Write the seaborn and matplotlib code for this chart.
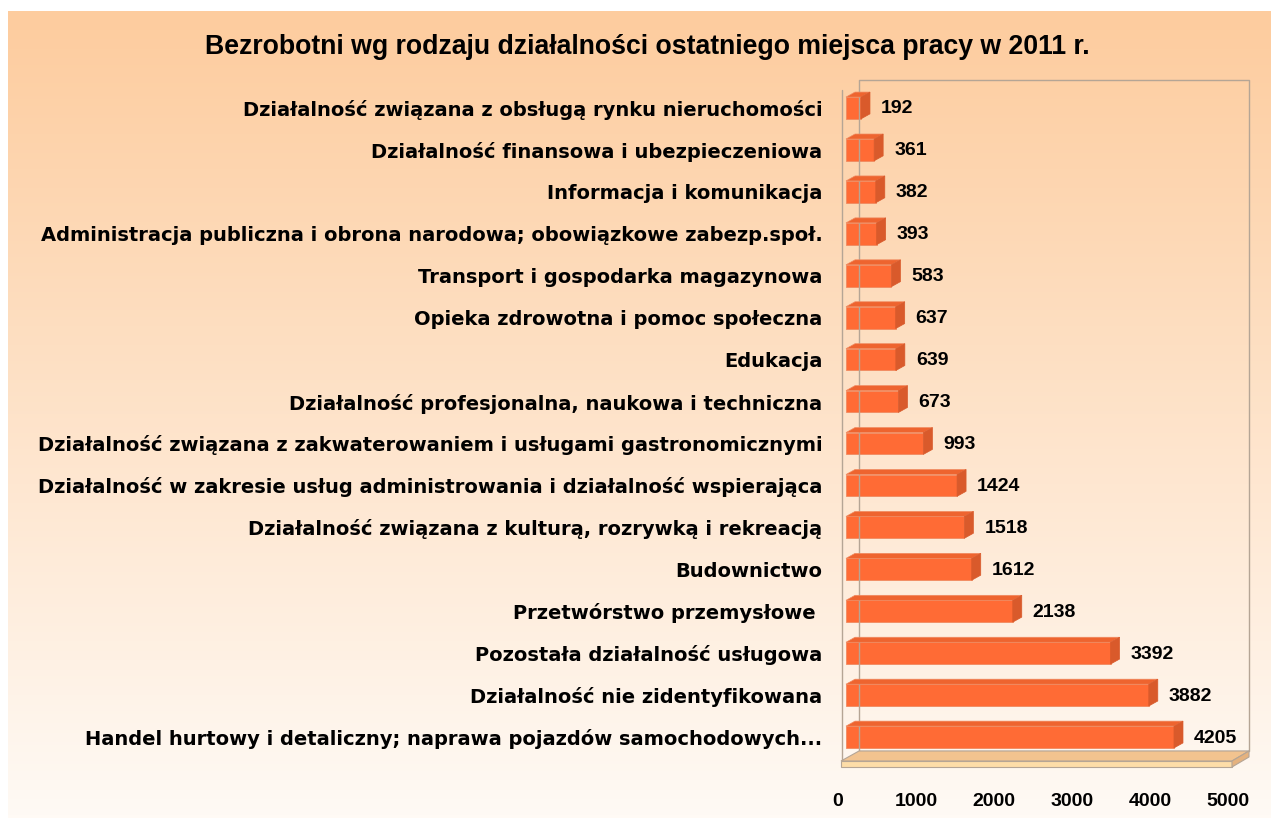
import numpy as np
import pandas as pd
import matplotlib
matplotlib.use("Agg")
import matplotlib.pyplot as plt
import seaborn as sns
from matplotlib.patches import Polygon
from matplotlib.transforms import IdentityTransform, ScaledTranslation

# data (top to bottom)
categories = [
    "Działalność związana z obsługą rynku nieruchomości",
    "Działalność finansowa i ubezpieczeniowa",
    "Informacja i komunikacja",
    "Administracja publiczna i obrona narodowa; obowiązkowe zabezp.społ.",
    "Transport i gospodarka magazynowa",
    "Opieka zdrowotna i pomoc społeczna",
    "Edukacja",
    "Działalność profesjonalna, naukowa i techniczna",
    "Działalność związana z zakwaterowaniem i usługami gastronomicznymi",
    "Działalność w zakresie usług administrowania i działalność wspierająca",
    "Działalność związana z kulturą, rozrywką i rekreacją",
    "Budownictwo",
    "Przetwórstwo przemysłowe ",
    "Pozostała działalność usługowa",
    "Działalność nie zidentyfikowana",
    "Handel hurtowy i detaliczny; naprawa pojazdów samochodowych...",
]
values = [192, 361, 382, 393, 583, 637, 639, 673, 993, 1424, 1518, 1612, 2138, 3392, 3882, 4205]
x_ticks = [0, 1000, 2000, 3000, 4000, 5000]
title = "Bezrobotni wg rodzaju działalności ostatniego miejsca pracy w 2011 r."

df = pd.DataFrame({"category": categories, "value": values})

sns.set_style("white")
plt.rcParams["font.family"] = ["Liberation Sans", "DejaVu Sans"]
plt.rcParams["text.color"] = "black"
plt.rcParams["xtick.color"] = "black"
plt.rcParams["ytick.color"] = "black"

W, H = 1271, 818
fig = plt.figure(figsize=(W / 100, H / 100), dpi=100)
fig.patch.set_facecolor("white")

# gradient background (peach -> almost white)
bg = fig.add_axes([8 / W, 0, 1 - 8 / W, (H - 11) / H])
top_c = np.array([253, 204, 158]) / 255
bot_c = np.array([255, 250, 245]) / 255
t = np.linspace(0, 1, 256)[:, None]
grad = top_c[None, :] * (1 - t) + bot_c[None, :] * t
bg.imshow(grad[:, None, :], aspect="auto", extent=[0, 1, 0, 1])
bg.set_axis_off()

# main axes = front plane of the bars
ax_l, ax_r, ax_t, ax_b = 846, 1236, 87, 758
ax = fig.add_axes([ax_l / W, 1 - ax_b / H, (ax_r - ax_l) / W, (ax_b - ax_t) / H])
ax.set_facecolor("none")

front = "#FF6B35"
sns.barplot(data=df, x="value", y="category", orient="h", color=front,
            width=0.52, saturation=1, ax=ax, edgecolor="#F08A60", linewidth=0.6, zorder=3)
ax.set_xlim(0, 5000)
ax.set_ylim(len(categories) - 0.5, -0.5)
for s in ax.spines.values():
    s.set_visible(False)
ax.set_xlabel("")
ax.set_ylabel("")

num_font = dict(fontsize=14, fontweight="bold", color="black")
ax.set_xticks(x_ticks)
ax.set_xticklabels([str(v) for v in x_ticks], **num_font)
ax.tick_params(axis="x", length=0, pad=25)
ax.tick_params(axis="y", length=0, pad=17)
for lbl in ax.get_yticklabels():
    lbl.set_fontfamily(["DejaVu Sans"])
    lbl.set_fontsize(14)
    lbl.set_fontweight("bold")
shift = ScaledTranslation(-8 / 100, 0, fig.dpi_scale_trans)
for lbl in ax.get_xticklabels():
    lbl.set_transform(lbl.get_transform() + shift)

fig.canvas.draw()
bb = ax.get_window_extent()
x0, y0, x1, y1 = bb.x0, bb.y0, bb.x1, bb.y1
ident = IdentityTransform()
edge = "#B5A595"

# back wall / side lines / floor of the 3-D box
fig.add_artist(plt.Line2D([x0 + 13, x1 + 13, x1 + 13, x0 + 13, x0 + 13],
                          [y0 + 7, y0 + 7, y1 + 7, y1 + 7, y0 + 7],
                          transform=ident, color=edge, lw=1.0, zorder=1))
fig.add_artist(plt.Line2D([x0 - 4, x0 - 4], [y0 - 3, y1 - 3],
                          transform=ident, color=edge, lw=1.0, zorder=1))
floor_top = [(x0 - 5, y0 - 3), (x1 - 4, y0 - 3), (x1 + 13, y0 + 7), (x0 + 13, y0 + 7)]
floor_front = [(x0 - 5, y0 - 3), (x1 - 4, y0 - 3), (x1 - 4, y0 - 9), (x0 - 5, y0 - 9)]
floor_side = [(x1 - 4, y0 - 3), (x1 + 13, y0 + 7), (x1 + 13, y0 + 1), (x1 - 4, y0 - 9)]
for pts, c in [(floor_top, "#F2C38F"), (floor_front, "#FDDDA8"), (floor_side, "#E5B27E")]:
    fig.add_artist(Polygon(pts, closed=True, transform=ident, facecolor=c,
                           edgecolor=edge, lw=0.8, zorder=2))

# 3-D faces for each bar, derived from the seaborn patches
dx, dy = 9, 5
for p in ax.patches:
    bx0, by0 = ax.transData.transform((p.get_x(), p.get_y()))
    bx1, by1 = ax.transData.transform((p.get_x() + p.get_width(), p.get_y() + p.get_height()))
    ytop, ybot = max(by0, by1), min(by0, by1)
    top = [(bx0, ytop), (bx1, ytop), (bx1 + dx, ytop + dy), (bx0 + dx, ytop + dy)]
    side = [(bx1, ybot), (bx1, ytop), (bx1 + dx, ytop + dy), (bx1 + dx, ybot + dy)]
    fig.add_artist(Polygon(top, closed=True, transform=ident, facecolor="#EE642F",
                           edgecolor="#F08A60", lw=0.5, zorder=3))
    fig.add_artist(Polygon(side, closed=True, transform=ident, facecolor="#D95A2B",
                           edgecolor="#D95A2B", lw=0.5, zorder=3))

# value labels
for i, v in enumerate(values):
    ax.annotate(str(v), (v, i), xytext=(20, -1), textcoords="offset pixels",
                ha="left", va="center", **num_font)

fig.text(647 / W, 1 - 47 / H, title, ha="center", va="center",
         fontsize=19.2, fontweight="bold", color="black")

fig.savefig("out.png", dpi=100)
